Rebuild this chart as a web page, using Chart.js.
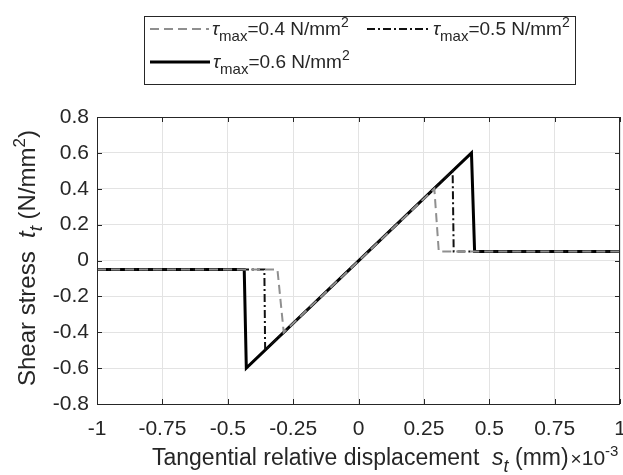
<!DOCTYPE html>
<html>
<head>
<meta charset="utf-8">
<script src="https://cdn.jsdelivr.net/npm/chart.js@4.4.1/dist/chart.umd.min.js"></script>
<style>
  html, body { margin: 0; padding: 0; background: #fff; }
  #wrap { width: 623px; height: 475px; position: relative; }
</style>
</head>
<body>
<div id="wrap"><canvas id="chart"></canvas></div>
<script>
"use strict";

// axis ticks
const xTicks = [-1, -0.75, -0.5, -0.25, 0, 0.25, 0.5, 0.75, 1];
const xTickLabels = ['-1', '-0.75', '-0.5', '-0.25', '0', '0.25', '0.5', '0.75', '1'];
const yTicks = [-0.8, -0.6, -0.4, -0.2, 0, 0.2, 0.4, 0.6, 0.8];
const yTickLabels = ['-0.8', '-0.6', '-0.4', '-0.2', '0', '0.2', '0.4', '0.6', '0.8'];

// tangential displacement (x 10^-3 mm) and shear stress (N/mm2) per tau_max
const dispTau04 = [-1, -0.31, -0.286, 0.29, 0.307, 1];
const stressTau04 = [-0.05, -0.05, -0.4, 0.4, 0.05, 0.05];
const dispTau05 = [-1, -0.36, -0.357, 0.36, 0.364, 1];
const stressTau05 = [-0.05, -0.05, -0.5, 0.5, 0.05, 0.05];
const dispTau06 = [-1, -0.437, -0.429, 0.432, 0.444, 1];
const stressTau06 = [-0.05, -0.05, -0.6, 0.6, 0.05, 0.05];

const FONT = '"Liberation Sans", Arial, Helvetica, sans-serif';
const TXT = '#262626';

const toPoints = (xs, ys) => xs.map((x, i) => ({x: x, y: ys[i]}));
const f = (size, italic) => (italic ? 'italic ' : '') + size + 'px ' + FONT;

// draws a run of differently styled text pieces, returns its width
function rich(ctx, parts, x, y, draw) {
    let cx = x;
    parts.forEach(p => {
        ctx.font = p.f;
        if (draw) ctx.fillText(p.t, cx, y + (p.dy || 0));
        cx += ctx.measureText(p.t).width;
    });
    return cx - x;
}

function tauLabel(val) {
    return [
        {t: '\u03C4', f: f(19, true)},
        {t: 'max', f: f(15), dy: 6},
        {t: '=' + val + ' N/mm', f: f(19)},
        {t: '2', f: f(14), dy: -8},
    ];
}

const decorPlugin = {
    id: 'decor',
    afterDraw(chart) {
        const ctx = chart.ctx;
        const a = chart.chartArea;
        const xs = chart.scales.x, ys = chart.scales.y;
        ctx.save();
        ctx.strokeStyle = TXT;
        ctx.lineWidth = 1;
        ctx.setLineDash([]);
        // axes box
        ctx.strokeRect(Math.round(a.left) + 0.5, Math.round(a.top) + 0.5,
            Math.round(a.right - a.left) - 1, Math.round(a.bottom - a.top));
        // inward ticks
        ctx.beginPath();
        xTicks.forEach(v => {
            const px = Math.round(xs.getPixelForValue(v)) + 0.5;
            ctx.moveTo(px, a.bottom); ctx.lineTo(px, a.bottom - 5);
            ctx.moveTo(px, a.top); ctx.lineTo(px, a.top + 5);
        });
        yTicks.forEach(v => {
            const py = Math.round(ys.getPixelForValue(v)) + 0.5;
            ctx.moveTo(a.left, py); ctx.lineTo(a.left + 5, py);
            ctx.moveTo(a.right, py); ctx.lineTo(a.right - 5, py);
        });
        ctx.stroke();

        // tick labels
        ctx.fillStyle = TXT;
        ctx.font = f(21);
        ctx.textBaseline = 'middle';
        ctx.textAlign = 'center';
        xTicks.forEach((v, i) => ctx.fillText(xTickLabels[i], xs.getPixelForValue(v), a.bottom + 25));
        ctx.textAlign = 'right';
        yTicks.forEach((v, i) => ctx.fillText(yTickLabels[i], a.left - 8, ys.getPixelForValue(v)));

        // x title
        ctx.textAlign = 'left';
        ctx.textBaseline = 'alphabetic';
        const xEnd = 152 + rich(ctx, [
            {t: 'Tangential relative displacement  ', f: f(23)},
            {t: 's', f: f(23, true)},
            {t: 't', f: f(18, true), dy: 7},
            {t: ' (mm)', f: f(23)},
        ], 152, 465, true);
        rich(ctx, [
            {t: '\u00D7', f: f(19)},
            {t: '10', f: f(21)},
            {t: '-3', f: f(15), dy: -9},
        ], xEnd + 2, 465, true);

        // y title
        const yParts = [
            {t: 'Shear stress  ', f: f(24)},
            {t: 't', f: f(24, true)},
            {t: 't', f: f(19, true), dy: 7},
            {t: ' (N/mm', f: f(24)},
            {t: '2', f: f(17), dy: -10},
            {t: ')', f: f(24)},
        ];
        const yw = rich(ctx, yParts, 0, 0, false);
        ctx.save();
        ctx.translate(35, 258);
        ctx.rotate(-Math.PI / 2);
        rich(ctx, yParts, -yw / 2, 0, true);
        ctx.restore();

        // legend
        ctx.fillStyle = '#fff';
        ctx.fillRect(144, 16, 432, 69);
        ctx.strokeStyle = TXT;
        ctx.strokeRect(144.5, 16.5, 431, 68);
        const sample = (x0, x1, y, ds) => {
            ctx.beginPath();
            ctx.strokeStyle = ds.borderColor;
            ctx.lineWidth = ds.borderWidth;
            ctx.setLineDash(ds.borderDash || []);
            ctx.moveTo(x0, y); ctx.lineTo(x1, y);
            ctx.stroke();
        };
        const dsets = chart.data.datasets;
        sample(150, 209, 29, dsets[0]);
        sample(367, 431, 29, dsets[1]);
        sample(150, 210, 62, dsets[2]);
        ctx.setLineDash([]);
        ctx.fillStyle = TXT;
        rich(ctx, tauLabel('0.4'), 212, 35, true);
        rich(ctx, tauLabel('0.5'), 433, 35, true);
        rich(ctx, tauLabel('0.6'), 213, 68, true);
        ctx.restore();
    }
};

new Chart(document.getElementById('chart'), {
    type: 'line',
    data: {
        datasets: [
            {
                label: 'tau_max=0.4 N/mm2',
                data: toPoints(dispTau04, stressTau04),
                borderColor: '#8f8f8f',
                borderWidth: 2,
                borderDash: [9, 5],
            },
            {
                label: 'tau_max=0.5 N/mm2',
                data: toPoints(dispTau05, stressTau05),
                borderColor: '#111',
                borderWidth: 2,
                borderDash: [8, 3, 2, 3],
            },
            {
                label: 'tau_max=0.6 N/mm2',
                data: toPoints(dispTau06, stressTau06),
                borderColor: '#000',
                borderWidth: 3,
            },
        ],
    },
    options: {
        responsive: true,
        maintainAspectRatio: false,
        animation: false,
        layout: {padding: {left: 97, right: 3, top: 117, bottom: 71}},
        elements: {
            point: {radius: 0},
            line: {tension: 0, fill: false, borderJoinStyle: 'miter'},
        },
        plugins: {
            legend: {display: false},
            tooltip: {enabled: false},
        },
        scales: {
            x: {
                type: 'linear',
                min: -1,
                max: 1,
                afterBuildTicks: s => { s.ticks = xTicks.map(v => ({value: v})); },
                ticks: {display: false},
                grid: {color: '#e3e3e3', drawTicks: false},
                border: {display: false},
            },
            y: {
                type: 'linear',
                min: -0.8,
                max: 0.8,
                afterBuildTicks: s => { s.ticks = yTicks.map(v => ({value: v})); },
                ticks: {display: false},
                grid: {color: '#e3e3e3', drawTicks: false},
                border: {display: false},
            },
        },
    },
    plugins: [decorPlugin],
});
</script>
</body>
</html>
